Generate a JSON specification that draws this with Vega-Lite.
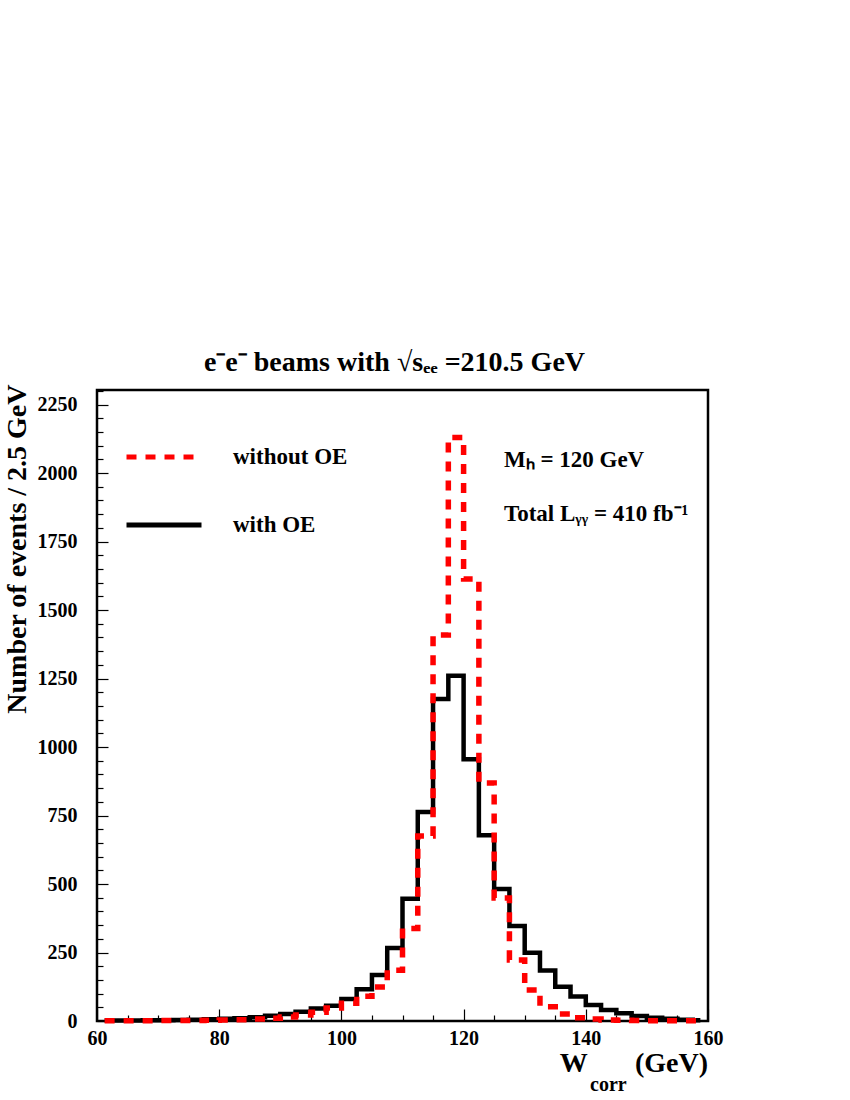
{
  "$schema": "https://vega.github.io/schema/vega-lite/v6.json",
  "width": 611,
  "height": 631,
  "autosize": "none",
  "padding": {"left": 97, "top": 390, "right": 142, "bottom": 79},
  "background": "white",
  "title": {"text": "e⁻e⁻ beams with √sₑₑ =210.5 GeV", "font": "Liberation Serif", "fontSize": 28, "fontWeight": "bold", "anchor": "middle", "offset": 7, "dx": -8, "color": "black"},
  "config": {"view": {"stroke": "black", "strokeWidth": 2.5}, "font": "Liberation Serif"},
  "data": {"values": [
    {"s": "with OE", "w": 61.25, "n": 2}, {"s": "with OE", "w": 63.75, "n": 2}, {"s": "with OE", "w": 66.25, "n": 2}, {"s": "with OE", "w": 68.75, "n": 3},
    {"s": "with OE", "w": 71.25, "n": 3}, {"s": "with OE", "w": 73.75, "n": 4}, {"s": "with OE", "w": 76.25, "n": 5}, {"s": "with OE", "w": 78.75, "n": 6},
    {"s": "with OE", "w": 81.25, "n": 8}, {"s": "with OE", "w": 83.75, "n": 10}, {"s": "with OE", "w": 86.25, "n": 14}, {"s": "with OE", "w": 88.75, "n": 19},
    {"s": "with OE", "w": 91.25, "n": 26}, {"s": "with OE", "w": 93.75, "n": 34}, {"s": "with OE", "w": 96.25, "n": 46}, {"s": "with OE", "w": 98.75, "n": 56},
    {"s": "with OE", "w": 101.25, "n": 80}, {"s": "with OE", "w": 103.75, "n": 116}, {"s": "with OE", "w": 106.25, "n": 168}, {"s": "with OE", "w": 108.75, "n": 266},
    {"s": "with OE", "w": 111.25, "n": 446}, {"s": "with OE", "w": 113.75, "n": 763}, {"s": "with OE", "w": 116.25, "n": 1175}, {"s": "with OE", "w": 118.75, "n": 1260},
    {"s": "with OE", "w": 121.25, "n": 955}, {"s": "with OE", "w": 123.75, "n": 678}, {"s": "with OE", "w": 126.25, "n": 482}, {"s": "with OE", "w": 128.75, "n": 347},
    {"s": "with OE", "w": 131.25, "n": 249}, {"s": "with OE", "w": 133.75, "n": 184}, {"s": "with OE", "w": 136.25, "n": 125}, {"s": "with OE", "w": 138.75, "n": 89},
    {"s": "with OE", "w": 141.25, "n": 58}, {"s": "with OE", "w": 143.75, "n": 40}, {"s": "with OE", "w": 146.25, "n": 28}, {"s": "with OE", "w": 148.75, "n": 18},
    {"s": "with OE", "w": 151.25, "n": 12}, {"s": "with OE", "w": 153.75, "n": 8}, {"s": "with OE", "w": 156.25, "n": 5}, {"s": "with OE", "w": 158.75, "n": 3},
    {"s": "without OE", "w": 61.25, "n": 1}, {"s": "without OE", "w": 63.75, "n": 1}, {"s": "without OE", "w": 66.25, "n": 1}, {"s": "without OE", "w": 68.75, "n": 1},
    {"s": "without OE", "w": 71.25, "n": 2}, {"s": "without OE", "w": 73.75, "n": 2}, {"s": "without OE", "w": 76.25, "n": 2}, {"s": "without OE", "w": 78.75, "n": 3},
    {"s": "without OE", "w": 81.25, "n": 4}, {"s": "without OE", "w": 83.75, "n": 5}, {"s": "without OE", "w": 86.25, "n": 7}, {"s": "without OE", "w": 88.75, "n": 10},
    {"s": "without OE", "w": 91.25, "n": 15}, {"s": "without OE", "w": 93.75, "n": 22}, {"s": "without OE", "w": 96.25, "n": 32}, {"s": "without OE", "w": 98.75, "n": 47},
    {"s": "without OE", "w": 101.25, "n": 65}, {"s": "without OE", "w": 103.75, "n": 90}, {"s": "without OE", "w": 106.25, "n": 124}, {"s": "without OE", "w": 108.75, "n": 185},
    {"s": "without OE", "w": 111.25, "n": 338}, {"s": "without OE", "w": 113.75, "n": 675}, {"s": "without OE", "w": 116.25, "n": 1409}, {"s": "without OE", "w": 118.75, "n": 2130},
    {"s": "without OE", "w": 121.25, "n": 1613}, {"s": "without OE", "w": 123.75, "n": 869}, {"s": "without OE", "w": 126.25, "n": 449}, {"s": "without OE", "w": 128.75, "n": 223},
    {"s": "without OE", "w": 131.25, "n": 113}, {"s": "without OE", "w": 133.75, "n": 52}, {"s": "without OE", "w": 136.25, "n": 26}, {"s": "without OE", "w": 138.75, "n": 12},
    {"s": "without OE", "w": 141.25, "n": 7}, {"s": "without OE", "w": 143.75, "n": 4}, {"s": "without OE", "w": 146.25, "n": 3}, {"s": "without OE", "w": 148.75, "n": 2},
    {"s": "without OE", "w": 151.25, "n": 1}, {"s": "without OE", "w": 153.75, "n": 1}, {"s": "without OE", "w": 156.25, "n": 1}, {"s": "without OE", "w": 158.75, "n": 1}
  ]},
  "layer": [
    {
      "transform": [{"filter": "datum.s === 'with OE'"}],
      "mark": {"type": "line", "interpolate": "step", "strokeWidth": 4.5},
      "encoding": {
        "x": {"field": "w", "type": "quantitative", "scale": {"domain": [60, 160], "nice": false, "zero": false},
          "axis": {"values": [60, 80, 100, 120, 140, 160], "format": "d", "title": null, "domain": false, "grid": false, "tickSize": -12, "tickWidth": 1.2, "tickColor": "black",
            "labelFont": "Liberation Serif", "labelFontSize": 20, "labelFontWeight": "bold", "labelColor": "black", "labelPadding": 19, "labelFlush": false, "labelOverlap": false, "orient": "bottom"}},
        "y": {"field": "n", "type": "quantitative", "scale": {"domain": [0, 2303], "nice": false},
          "axis": {"values": [0, 250, 500, 750, 1000, 1250, 1500, 1750, 2000, 2250], "format": "d", "title": "Number of events / 2.5 GeV",
            "titleFont": "Liberation Serif", "titleFontSize": 28, "titleFontWeight": "bold", "titleColor": "black", "titleAngle": -90, "titleAlign": "right", "titleBaseline": "middle", "titleX": -80, "titleY": -6,
            "domain": false, "grid": false, "tickSize": -11, "tickWidth": 1.2, "tickColor": "black",
            "labelFont": "Liberation Serif", "labelFontSize": 20, "labelFontWeight": "bold", "labelColor": "black", "labelPadding": 31, "labelFlush": false, "labelOverlap": false, "orient": "left"}},
        "color": {"field": "s", "type": "nominal", "scale": {"domain": ["without OE", "with OE"], "range": ["#ff0000", "#000000"]},
          "legend": {"orient": "none", "legendX": 27, "legendY": 57, "title": null, "symbolType": "stroke", "symbolSize": 5625, "symbolStrokeWidth": 5,
            "labelFont": "Liberation Serif", "labelFontSize": 23, "labelFontWeight": "bold", "labelColor": "black", "labelOffset": 29, "rowPadding": 45, "clipHeight": 20, "padding": 0}},
        "strokeDash": {"field": "s", "type": "nominal", "scale": {"domain": ["without OE", "with OE"], "range": [[10, 9], [1, 0]]},
          "legend": {"orient": "none", "legendX": 27, "legendY": 57, "title": null, "symbolType": "stroke", "symbolSize": 5625, "symbolStrokeWidth": 5,
            "labelFont": "Liberation Serif", "labelFontSize": 23, "labelFontWeight": "bold", "labelColor": "black", "labelOffset": 29, "rowPadding": 45, "clipHeight": 20, "padding": 0}}
      }
    },
    {
      "transform": [{"filter": "datum.s === 'without OE'"}],
      "mark": {"type": "line", "interpolate": "step", "strokeWidth": 5.5},
      "encoding": {
        "x": {"field": "w", "type": "quantitative", "scale": {"domain": [60, 160], "nice": false, "zero": false},
          "axis": {"values": [65, 70, 75, 85, 90, 95, 105, 110, 115, 125, 130, 135, 145, 150, 155], "labels": false, "title": null, "domain": false, "grid": false, "tickSize": -6, "tickWidth": 1.2, "tickColor": "black", "orient": "bottom"}},
        "y": {"field": "n", "type": "quantitative", "scale": {"domain": [0, 2303], "nice": false},
          "axis": {"values": [50, 100, 150, 200, 300, 350, 400, 450, 550, 600, 650, 700, 800, 850, 900, 950, 1050, 1100, 1150, 1200, 1300, 1350, 1400, 1450, 1550, 1600, 1650, 1700, 1800, 1850, 1900, 1950, 2050, 2100, 2150, 2200, 2300],
            "labels": false, "title": null, "domain": false, "grid": false, "tickSize": -6, "tickWidth": 1.2, "tickColor": "black", "orient": "left"}},
        "color": {"field": "s", "type": "nominal", "scale": {"domain": ["without OE", "with OE"], "range": ["#ff0000", "#000000"]},
          "legend": {"orient": "none", "legendX": 27, "legendY": 57, "title": null, "symbolType": "stroke", "symbolSize": 5625, "symbolStrokeWidth": 5,
            "labelFont": "Liberation Serif", "labelFontSize": 23, "labelFontWeight": "bold", "labelColor": "black", "labelOffset": 29, "rowPadding": 45, "clipHeight": 20, "padding": 0}},
        "strokeDash": {"field": "s", "type": "nominal", "scale": {"domain": ["without OE", "with OE"], "range": [[10, 9], [1, 0]]},
          "legend": {"orient": "none", "legendX": 27, "legendY": 57, "title": null, "symbolType": "stroke", "symbolSize": 5625, "symbolStrokeWidth": 5,
            "labelFont": "Liberation Serif", "labelFontSize": 23, "labelFontWeight": "bold", "labelColor": "black", "labelOffset": 29, "rowPadding": 45, "clipHeight": 20, "padding": 0}}
      }
    },
    {
      "data": {"values": [{}]},
      "mark": {"type": "text", "text": "Mₕ = 120 GeV", "align": "left", "baseline": "alphabetic", "font": "Liberation Serif", "fontSize": 23, "fontWeight": "bold", "color": "black"},
      "encoding": {"x": {"datum": 126.6, "type": "quantitative", "axis": null}, "y": {"datum": 2022, "type": "quantitative", "axis": null}}
    },
    {
      "data": {"values": [{}]},
      "mark": {"type": "text", "text": "Total Lᵧᵧ = 410 fb⁻¹", "align": "left", "baseline": "alphabetic", "font": "Liberation Serif", "fontSize": 23, "fontWeight": "bold", "color": "black"},
      "encoding": {"x": {"datum": 126.6, "type": "quantitative", "axis": null}, "y": {"datum": 1825, "type": "quantitative", "axis": null}}
    },
    {
      "data": {"values": [{}]},
      "mark": {"type": "text", "text": "W", "align": "right", "baseline": "alphabetic", "font": "Liberation Serif", "fontSize": 28, "fontWeight": "bold", "color": "black"},
      "encoding": {"x": {"datum": 140.3, "type": "quantitative", "axis": null}, "y": {"datum": -186, "type": "quantitative", "axis": null}}
    },
    {
      "data": {"values": [{}]},
      "mark": {"type": "text", "text": "corr", "align": "right", "baseline": "alphabetic", "font": "Liberation Serif", "fontSize": 20, "fontWeight": "bold", "color": "black"},
      "encoding": {"x": {"datum": 146.7, "type": "quantitative", "axis": null}, "y": {"datum": -255, "type": "quantitative", "axis": null}}
    },
    {
      "data": {"values": [{}]},
      "mark": {"type": "text", "text": "(GeV)", "align": "right", "baseline": "alphabetic", "font": "Liberation Serif", "fontSize": 28, "fontWeight": "bold", "color": "black"},
      "encoding": {"x": {"datum": 160, "type": "quantitative", "axis": null}, "y": {"datum": -186, "type": "quantitative", "axis": null}}
    }
  ],
  "resolve": {"axis": {"x": "independent", "y": "independent"}}
}
